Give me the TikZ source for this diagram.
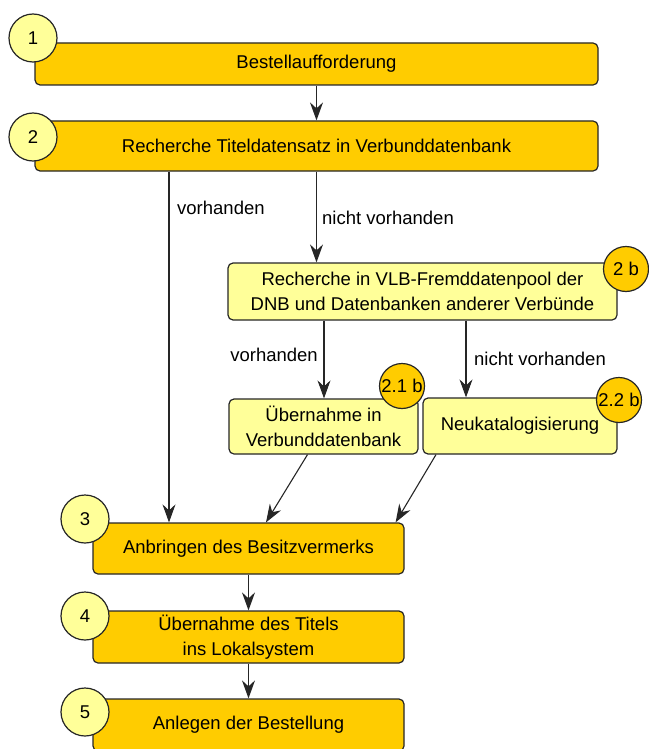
\documentclass[tikz,border=0pt]{standalone}
\usepackage{fontspec}
\setmainfont{Liberation Sans}
\usetikzlibrary{arrows.meta}
\definecolor{boxorange}{HTML}{FFCC00}
\definecolor{boxyellow}{HTML}{FFFF99}
\definecolor{edgegray}{HTML}{262626}
\tikzset{
  stepbox/.style={draw=edgegray,line width=1.2pt,rounded corners=5pt,fill=boxorange,
    align=center,inner sep=0pt,font=\fontsize{18.5}{25}\selectfont},
  subbox/.style={stepbox,fill=boxyellow},
  stepnum/.style={circle,draw=edgegray,line width=1.2pt,fill=boxyellow,inner sep=0pt,
    minimum size=48pt,font=\fontsize{18.5}{22}\selectfont},
  subnum/.style={stepnum,fill=boxorange,minimum size=45pt},
  flow/.style={-{Stealth[length=18pt,width=13pt,inset=6pt]},line width=1.1pt,draw=edgegray},
  cond/.style={inner sep=0pt,font=\fontsize{18.5}{22}\selectfont},
}

\begin{document}
\begin{tikzpicture}[x=1pt,y=-1pt]
  \useasboundingbox (0,0) rectangle (648,749);
  \coordinate (yes1) at (169,0);
  \coordinate (yes2) at (324,0);
  \coordinate (no2) at (466,0);

  \node[stepbox,minimum width=563pt,minimum height=42pt] (box1) at (316.5,64) {Bestellaufforderung};
  \node[stepbox,minimum width=563pt,minimum height=50pt] (box2) at (316.5,146) {Recherche Titeldatensatz in Verbunddatenbank};
  \node[subbox,minimum width=389pt,minimum height=57pt] (sub0) at (422.5,291.5) {Recherche in VLB-Fremddatenpool der\\DNB und Datenbanken anderer Verbünde};
  \node[subbox,minimum width=189pt,minimum height=55pt] (sub1) at (323.5,426.5) {Übernahme in\\Verbunddatenbank};
  \node[subbox,minimum width=194pt,minimum height=56pt] (sub2) at (520,426) {Neukatalogisierung};
  \node[stepbox,minimum width=311pt,minimum height=51pt] (box3) at (248.5,548.5) {Anbringen des Besitzvermerks};
  \node[stepbox,minimum width=311pt,minimum height=52pt] (box4) at (248.5,637) {Übernahme des Titels\\ins Lokalsystem};
  \node[stepbox,minimum width=311pt,minimum height=52pt] (box5) at (248.5,725) {Anlegen der Bestellung};

  \node[stepnum] (num1) at (33,38) {1};
  \node[stepnum] (num2) at (33,137) {2};
  \node[subnum] (num2b) at (626,269) {2 b};
  \node[subnum] (num21b) at (402,386) {2.1 b};
  \node[subnum] (num22b) at (619,400) {2.2 b};
  \node[stepnum] (num3) at (85,519) {3};
  \node[stepnum] (num4) at (85,616) {4};
  \node[stepnum] (num5) at (85,712) {5};

  \draw[flow] (box1.south) -- (box2.north);
  \draw[flow] (box2.south -| yes1) -- (box3.north -| yes1);
  \draw[flow] (box2.south) -- (box2.south |- sub0.north);
  \draw[flow] (sub0.south -| yes2) -- (sub1.north -| yes2);
  \draw[flow] (sub0.south -| no2) -- (sub2.north -| no2);
  \draw[flow] ([xshift=-16pt]sub1.south) -- ([xshift=17.5pt]box3.north);
  \draw[flow] ([xshift=-84pt]sub2.south) -- ([xshift=-9pt]box3.north east);
  \draw[flow] (box3.south) -- (box4.north);
  \draw[flow] (box4.south) -- (box5.north);

  \node[cond,anchor=west] (yes1lbl) at (177,208) {vorhanden};
  \node[cond,anchor=west] (no1lbl) at (322,218) {nicht vorhanden};
  \node[cond,anchor=east] (yes2lbl) at (318,355) {vorhanden};
  \node[cond,anchor=west] (no2lbl) at (474,359) {nicht vorhanden};
\end{tikzpicture}
\end{document}
